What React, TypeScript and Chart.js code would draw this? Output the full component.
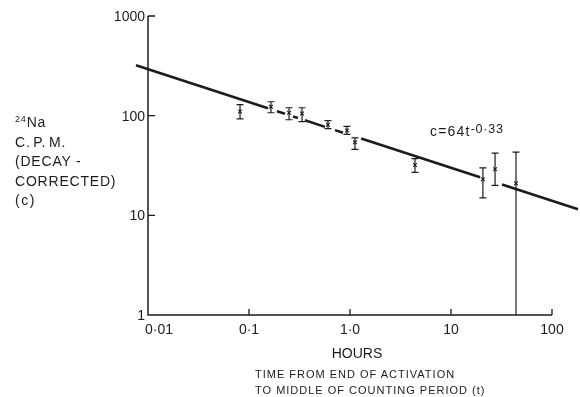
import React, { useEffect, useRef } from "react";
import { Chart, registerables } from "chart.js";

Chart.register(...registerables);

// Measured points: time (hours) and decay-corrected counts per minute
const pointT = [0.0815, 0.165, 0.249, 0.335, 0.605, 0.933, 1.12, 4.4, 20.7, 27.3, 44];
const pointC = [110, 123, 107, 105, 81, 71, 54, 32, 23, 29, 21];
const errHigh = [129, 138, 120, 120, 89, 78, 60, 37, 30, 42, 43];
const errLow = [93, 107, 91, 87, 74, 65, 46, 27, 15, 20, 1];

// Fitted line c = 64 t^-0.33, drawn as broken segments (null = gap)
const fitT = [0.0076, 0.154, 0.154, 0.189, 0.227, 0.227, 0.273, 0.305, 0.305, 0.358, 0.565, 0.565, 0.71, 0.853, 0.853, 1.29, 19.4, 19.4, 32.0, 181];
const fitC = [320, 118.6, null, 110.8, 104.4, null, 98.2, 94.6, null, 89.8, 77.2, null, 71.6, 67.4, null, 58.9, 24.1, null, 20.4, 11.5];

// Axis ticks
const xTickValues = [0.01, 0.1, 1, 10, 100];
const xTickLabels = ["0·01", "0·1", "1·0", "10", "100"];
const yTickValues = [1, 10, 100, 1000];
const yTickLabels = ["1", "10", "100", "1000"];

const INK = "#1c1c1c";
const FONT = "'Liberation Sans', Arial, sans-serif";

const axesPlugin = {
  id: "paperAxes",
  beforeDatasetsDraw(chart: any) {
    const { ctx } = chart;
    const xs = chart.scales.x;
    const ys = chart.scales.y;
    const x0 = xs.getPixelForValue(xTickValues[0]);
    const x1 = xs.getPixelForValue(xTickValues[xTickValues.length - 1]);
    const y0 = ys.getPixelForValue(yTickValues[0]);
    const y1 = ys.getPixelForValue(yTickValues[yTickValues.length - 1]);
    ctx.save();
    ctx.strokeStyle = INK;
    ctx.lineWidth = 1.5;
    ctx.beginPath();
    ctx.moveTo(x0, y1);
    ctx.lineTo(x0, y0);
    ctx.lineTo(x1, y0);
    ctx.stroke();
    ctx.lineWidth = 1.3;
    ctx.beginPath();
    yTickValues.forEach((v, i) => {
      if (i === 0) return;
      const py = ys.getPixelForValue(v);
      ctx.moveTo(x0, py);
      ctx.lineTo(x0 + 7, py);
    });
    xTickValues.forEach((v, i) => {
      if (i === 0) return;
      const px = xs.getPixelForValue(v);
      ctx.moveTo(px, y0);
      ctx.lineTo(px, y0 - 6);
    });
    ctx.stroke();

    ctx.fillStyle = INK;
    ctx.font = `14px ${FONT}`;
    ctx.textBaseline = "middle";
    ctx.textAlign = "right";
    yTickValues.forEach((v, i) => {
      ctx.fillText(yTickLabels[i], x0 - 3, ys.getPixelForValue(v) + 1);
    });
    xTickValues.forEach((v, i) => {
      const px = xs.getPixelForValue(v);
      if (i === 0) {
        ctx.textAlign = "left";
        ctx.fillText(xTickLabels[i], px - 3, y0 + 15);
      } else {
        ctx.textAlign = "center";
        ctx.fillText(xTickLabels[i], px, y0 + 15);
      }
    });
    ctx.restore();
  },
  afterDatasetsDraw(chart: any) {
    const { ctx, chartArea } = chart;
    const xs = chart.scales.x;
    const ys = chart.scales.y;
    ctx.save();
    ctx.strokeStyle = INK;
    ctx.lineWidth = 1.2;
    ctx.beginPath();
    pointT.forEach((t, i) => {
      const px = xs.getPixelForValue(t);
      const pTop = ys.getPixelForValue(errHigh[i]);
      const pBot = Math.min(ys.getPixelForValue(errLow[i]), chartArea.bottom);
      ctx.moveTo(px, pTop);
      ctx.lineTo(px, pBot);
      ctx.moveTo(px - 3.5, pTop);
      ctx.lineTo(px + 3.5, pTop);
      if (errLow[i] > 1) {
        ctx.moveTo(px - 3.5, pBot);
        ctx.lineTo(px + 3.5, pBot);
      }
    });
    ctx.stroke();
    ctx.restore();
  },
};

export default function App() {
  const canvasRef = useRef<HTMLCanvasElement | null>(null);

  useEffect(() => {
    document.body.style.margin = "0";
    const canvas = canvasRef.current;
    if (!canvas) return;
    const chart = new Chart(canvas, {
      type: "scatter",
      data: {
        datasets: [
          {
            label: "fit",
            data: fitT.map((t, i) => ({ x: t, y: fitC[i] as any })),
            showLine: true,
            spanGaps: false,
            borderColor: INK,
            borderWidth: 2.6,
            pointRadius: 0,
            clip: false as any,
          },
          {
            label: "measured",
            data: pointT.map((t, i) => ({ x: t, y: pointC[i] })),
            pointStyle: "crossRot",
            pointRadius: 2.6,
            borderColor: INK,
            borderWidth: 1.1,
            backgroundColor: INK,
          },
        ],
      },
      options: {
        animation: false,
        responsive: false,
        devicePixelRatio: 1,
        layout: { padding: { left: 148, right: 28, top: 16, bottom: 82 } },
        plugins: {
          legend: { display: false },
          tooltip: { enabled: false },
          title: { display: false },
        },
        scales: {
          x: { type: "logarithmic", min: 0.01, max: 100, display: false },
          y: { type: "logarithmic", min: 1, max: 1000, display: false },
        },
      },
      plugins: [axesPlugin],
    });
    return () => chart.destroy();
  }, []);

  const txt: React.CSSProperties = {
    position: "absolute",
    color: INK,
    fontFamily: FONT,
    whiteSpace: "nowrap",
    margin: 0,
  };

  return (
    <div style={{ position: "relative", width: 580, height: 397, background: "#fff" }}>
      <canvas ref={canvasRef} width={580} height={397} style={{ display: "block" }} />
      <div style={{ ...txt, left: 15, top: 110, fontSize: 14, lineHeight: "19.6px", letterSpacing: 0.8 }}>
        <div>
          <sup style={{ fontSize: 9, verticalAlign: 5 }}>24</sup>Na
        </div>
        <div style={{ wordSpacing: -2 }}>C. P. M.</div>
        <div>(DECAY -</div>
        <div>CORRECTED)</div>
        <div style={{ letterSpacing: 1.5 }}>(c)</div>
      </div>
      <div style={{ ...txt, left: 430, top: 120, fontSize: 14, lineHeight: "18px", letterSpacing: 1.2 }}>
        c=64t<sup style={{ fontSize: 12.5, verticalAlign: 3, letterSpacing: 0.8 }}>-0·33</sup>
      </div>
      <div style={{ ...txt, left: 0, width: 714, top: 344, fontSize: 14, lineHeight: "18px", textAlign: "center" }}>
        HOURS
      </div>
      <div style={{ ...txt, left: 255, top: 366, fontSize: 11, lineHeight: "16px", letterSpacing: 1.0 }}>
        TIME FROM END OF ACTIVATION
      </div>
      <div style={{ ...txt, left: 255, top: 382, fontSize: 11, lineHeight: "16px", letterSpacing: 1.0 }}>
        TO MIDDLE OF COUNTING PERIOD (t)
      </div>
    </div>
  );
}
